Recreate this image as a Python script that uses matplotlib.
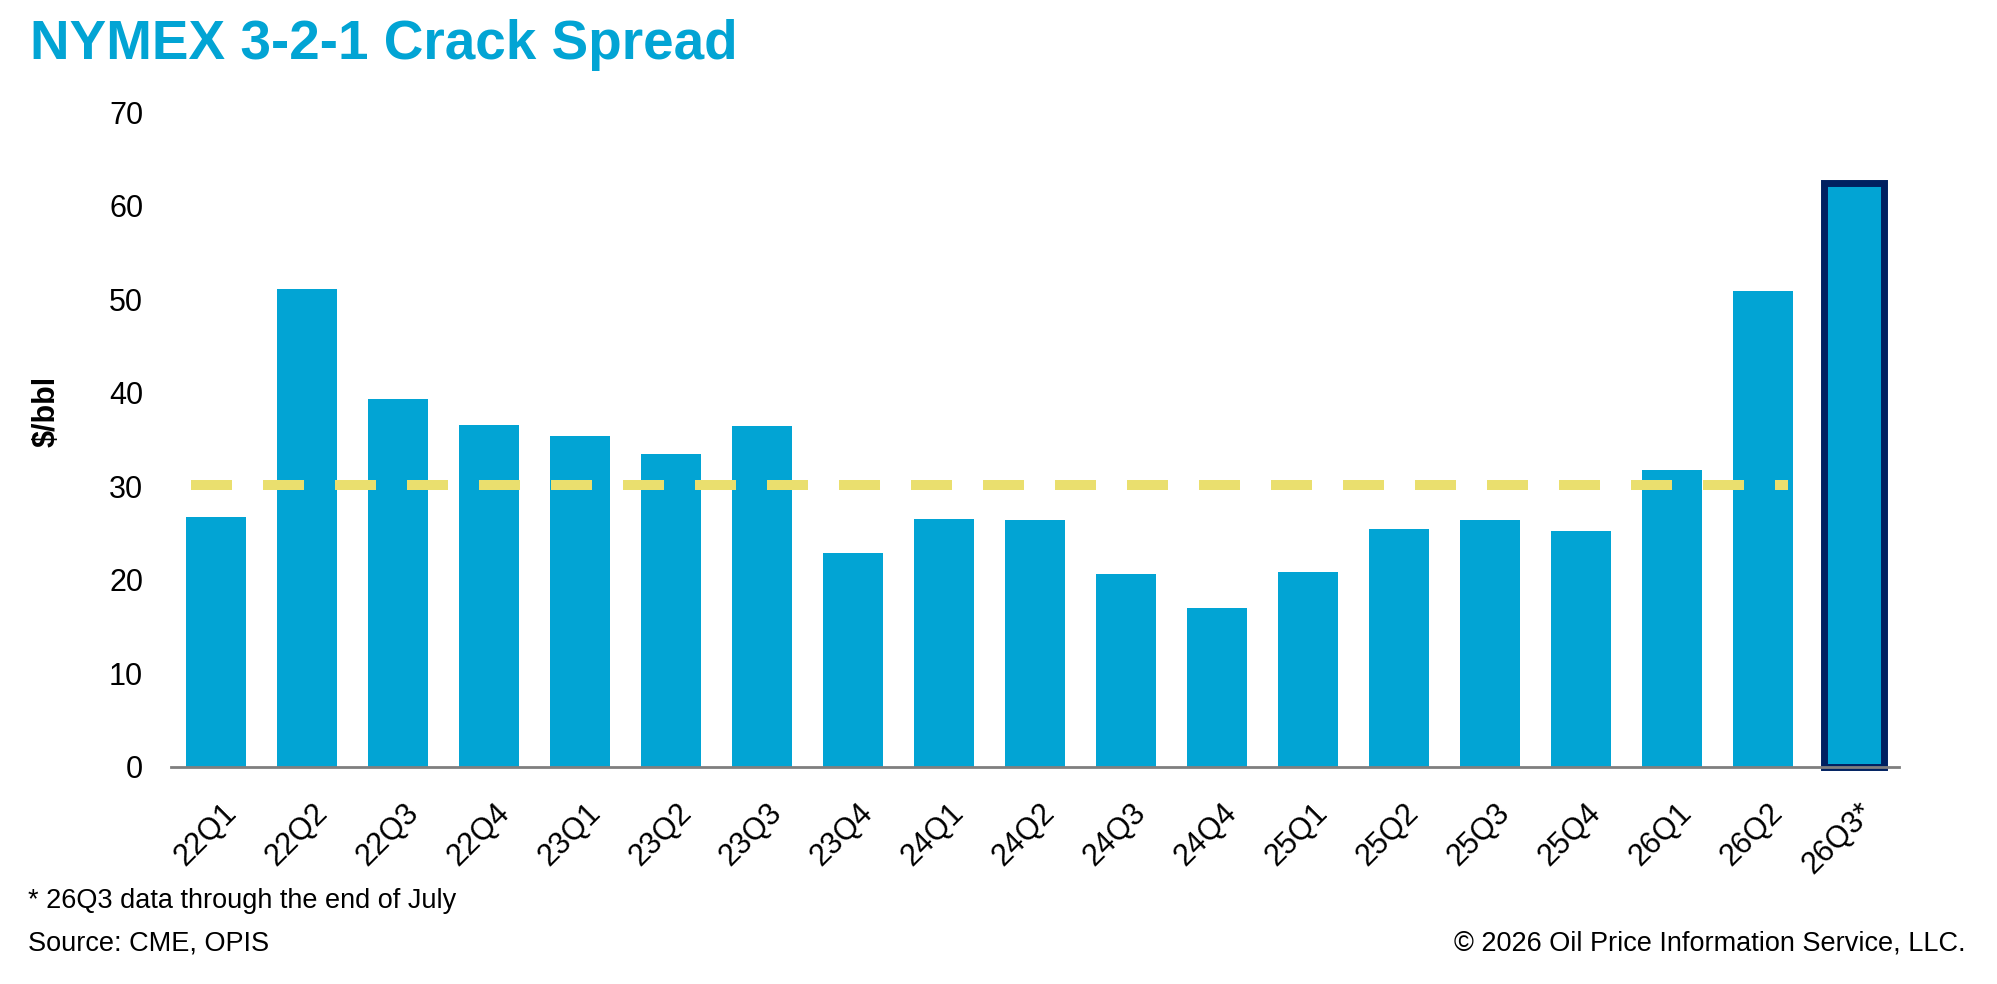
import matplotlib
matplotlib.use('Agg')
import matplotlib.pyplot as plt
import matplotlib.transforms as mtransforms
import numpy as np

plt.rcParams['font.family'] = ['Liberation Sans', 'DejaVu Sans']

quarters = ['22Q1', '22Q2', '22Q3', '22Q4', '23Q1', '23Q2', '23Q3', '23Q4',
            '24Q1', '24Q2', '24Q3', '24Q4', '25Q1', '25Q2', '25Q3', '25Q4',
            '26Q1', '26Q2', '26Q3*']
crack = [26.7, 51.1, 39.3, 36.5, 35.4, 33.5, 36.4, 22.9,
         26.5, 26.4, 20.6, 17.0, 20.8, 25.4, 26.4, 25.2,
         31.7, 50.9, 62.4]
avg_crack = 30.1   # average of the full quarters (dashed line)
yticks = [0, 10, 20, 30, 40, 50, 60, 70]

blue = '#02A4D4'
navy = '#002060'
yellow = '#EADF6E'

fig = plt.figure(figsize=(19.97, 9.84), dpi=100)
W, H = 1997, 984
ax = fig.add_axes([171 / W, 1 - 767 / H, (1899 - 171) / W, (767 - 112) / H])

x = np.arange(len(quarters))
bars = ax.bar(x, crack, width=0.66, color=blue, zorder=1)
# partial quarter gets the dark outline
last = bars[-1]
last.set_edgecolor(navy)
last.set_linewidth(5)
last.set_clip_on(False)

# average line over the complete quarters
n_full = len(quarters) - 1
ax.hlines(avg_crack, -0.28, n_full - 1 + 0.28, colors=yellow, linewidth=7.2,
          linestyles=(0, (4.1, 3.1)), zorder=3)

ax.set_xlim(-0.5, len(quarters) - 0.5)
ax.set_ylim(0, 70)
ax.set_yticks(yticks)
ax.set_xticks(x)
ax.set_xticklabels(quarters, rotation=45, ha='right', va='top',
                   rotation_mode='anchor')

for s in ['top', 'right', 'left']:
    ax.spines[s].set_visible(False)
ax.spines['bottom'].set_color('#7F7F7F')
ax.spines['bottom'].set_linewidth(2)
ax.spines['bottom'].set_zorder(2.5)

ax.tick_params(axis='y', length=0, pad=20, labelsize=22)
ax.tick_params(axis='x', length=0, pad=22, labelsize=22)

shift = mtransforms.ScaledTranslation(5 / 100, 0, fig.dpi_scale_trans)
for lab in ax.get_xticklabels():
    lab.set_transform(lab.get_transform() + shift)

fig.text(30 / W, 1 - 59 / H, 'NYMEX 3-2-1 Crack Spread', fontsize=39.5,
         fontweight='bold', color=blue, ha='left', va='baseline')
fig.text(46.5 / W, 1 - 411 / H, '$/bbl', rotation=90, fontsize=22,
         fontweight='bold', ha='center', va='center')

fig.text(28 / W, 1 - 908 / H, '* 26Q3 data through the end of July',
         fontsize=19.5, ha='left', va='baseline')
fig.text(28 / W, 1 - 950 / H, 'Source: CME, OPIS', fontsize=19.5,
         ha='left', va='baseline')
fig.text(1966 / W, 1 - 950 / H, '\u00a9 2026 Oil Price Information Service, LLC.',
         fontsize=19.5, ha='right', va='baseline')

fig.savefig('out.png', dpi=100)
